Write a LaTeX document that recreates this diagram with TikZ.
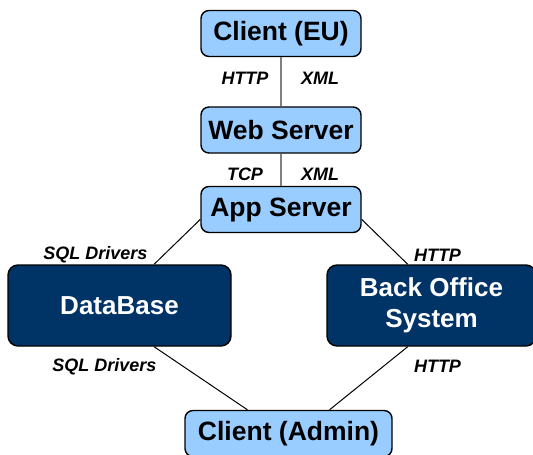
\documentclass[tikz,border=0pt]{standalone}
\usepackage{fontspec}
\setmainfont{Liberation Sans}
\definecolor{lightbox}{HTML}{99CCFF}
\definecolor{darkbox}{HTML}{003366}
\definecolor{wire}{HTML}{808080}

\begin{document}
\begin{tikzpicture}[x=1pt,y=-1pt,
    tier/.style={draw=black,line width=1.4pt,rounded corners=8pt,fill=lightbox,
        minimum width=160pt,minimum height=46pt,inner sep=0pt,
        font=\fontsize{26.5}{28}\selectfont\bfseries},
    store/.style={draw=black,line width=1.4pt,rounded corners=10pt,fill=darkbox,text=white,
        minimum width=223pt,minimum height=81pt,inner sep=0pt,align=center,
        font=\fontsize{26}{31}\selectfont\bfseries},
    proto/.style={font=\fontsize{18}{20}\selectfont\bfseries\itshape,inner sep=0pt},
    link/.style={line width=1pt,black},
    pipe/.style={line width=1.2pt,wire}]
    \useasboundingbox (0,0) rectangle (533,455);
    \providecommand{\leftcol}{245}
    \providecommand{\rightcol}{320}
    % main tiers
    \node[tier] (client) at (281,33.5) {Client (EU)};
    \node[tier] (web) at (281,130) {Web Server};
    \node[tier] (app) at (281,209.5) {App Server};
    \node[store] (db) at (119.5,305.5) {DataBase};
    \node[store,minimum width=209pt] (office) at (431.5,305.5) {Back Office\\System};
    \node[tier,minimum width=207pt] (admin) at (288.5,433.5) {Client (Admin)};
    % connections
    \draw[pipe] (client) -- (web);
    \draw[pipe] (web) -- (app);
    \draw[link] (app.187) -- (db.50);
    \draw[link] (app.353) -- (office.120);
    \draw[link] (db.-50) -- (admin.150);
    \draw[link] (office.-120) -- (admin.30);
    % protocols
    \node[proto] (http1) at (\leftcol,78) {HTTP};
    \node[proto] (xml1) at (\rightcol,78) {XML};
    \node[proto] (tcp) at (\leftcol,174.5) {TCP};
    \node[proto] (xml2) at (\rightcol,174.5) {XML};
    \node[proto] (sqlup) at (95.5,255) {SQL Drivers};
    \node[proto] (httpup) at (437.5,255) {HTTP};
    \node[proto] (sqldown) at (104.5,367) {SQL Drivers};
    \node[proto] (httpdown) at (437.5,366.5) {HTTP};
\end{tikzpicture}
\end{document}
